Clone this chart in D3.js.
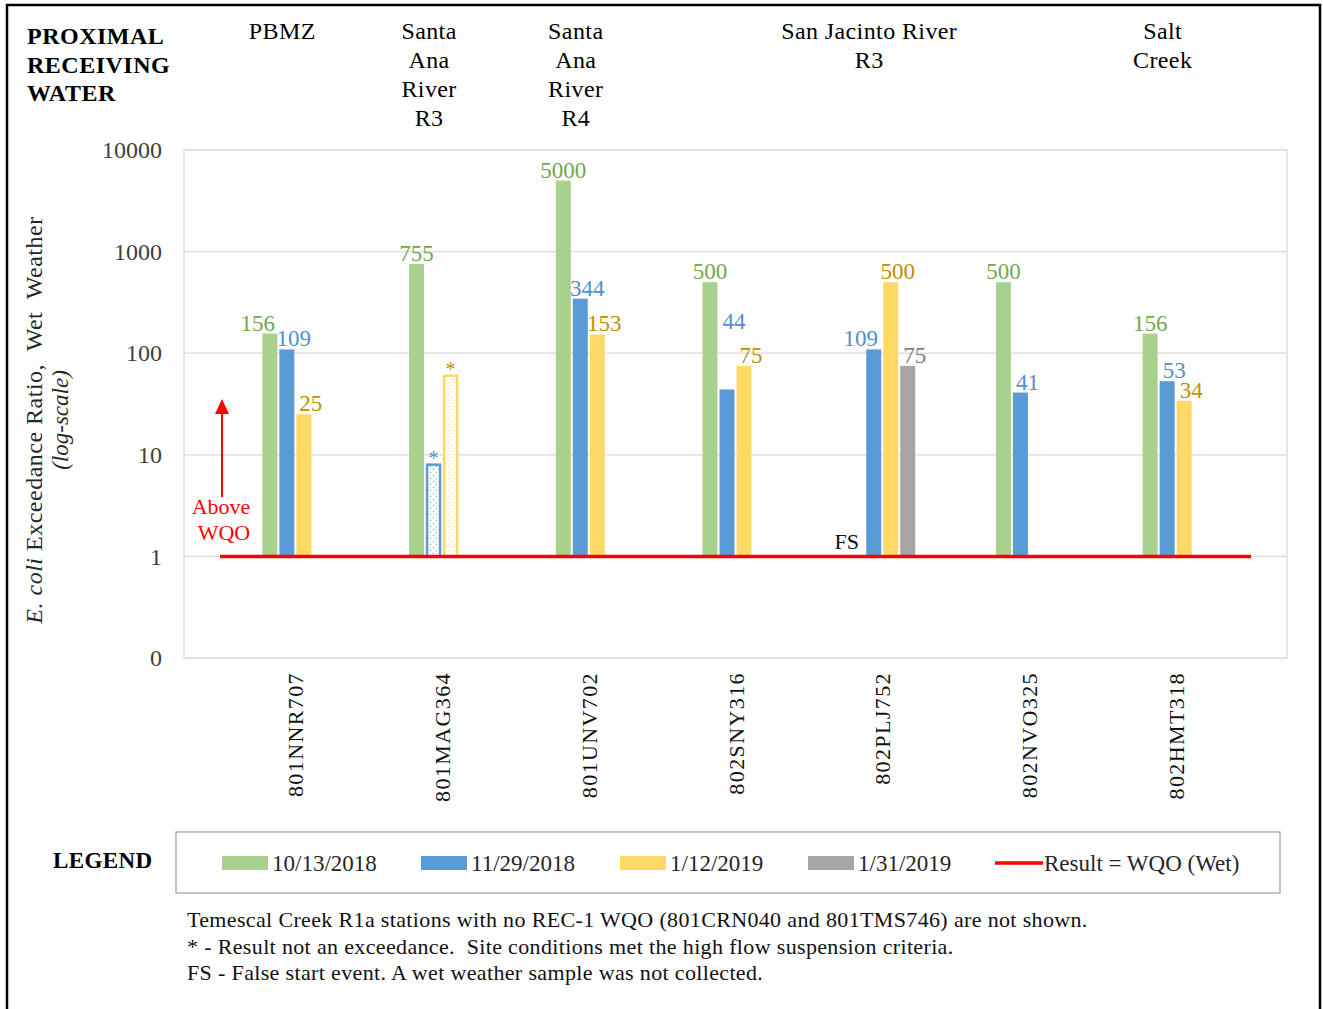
<!DOCTYPE html>
<html>
<head>
<meta charset="utf-8">
<script src="https://cdn.jsdelivr.net/npm/d3@7"></script>
<style>
  body { margin: 0; background: #fff; }
  text { font-family: 'Liberation Serif', 'Times New Roman', serif; white-space: pre; }
</style>
</head>
<body>
<div id="chart"></div>
<script>
// stations along the x axis
var stations = ['801NNR707', '801MAG364', '801UNV702', '802SNY316', '802PLJ752', '802NVO325', '802HMT318'];
var dates = ['10/13/2018', '11/29/2018', '1/12/2019', '1/31/2019'];

// exceedance ratios per sampling date (null = no bar)
var oct13 = [156, 755, 5000, 500, null, 500, 156];
var nov29 = [109, 8, 344, 44, 109, 41, 53];
var jan12 = [25, 60, 153, 75, 500, null, 34];
var jan31 = [null, null, null, null, 75, null, null];

// results that are not exceedances (high flow suspension) -> '*'
var starred = [['801MAG364', '11/29/2018'], ['801MAG364', '1/12/2019']];
// false start events
var falseStart = [['802PLJ752', '10/13/2018']];

var yTicks = [0.1, 1, 10, 100, 1000, 10000];

// receiving water headers: text lines + station span
var waterNames = [['PBMZ'], ['Santa', 'Ana', 'River', 'R3'], ['Santa', 'Ana', 'River', 'R4'], ['San Jacinto River', 'R3'], ['Salt', 'Creek']];
var waterSpan = [[0, 0], [1, 1], [2, 2], [3, 5], [6, 6]];

var footnotes = [
  'Temescal Creek R1a stations with no REC-1 WQO (801CRN040 and 801TMS746) are not shown.',
  '* - Result not an exceedance.  Site conditions met the high flow suspension criteria.',
  'FS - False start event. A wet weather sample was not collected.'
];

var fills = ['#a9d18e', '#5b9bd5', '#ffd966', '#a5a5a5'];
var labelColors = ['#70a84c', '#4f8fcf', '#bf9000', '#7f7f7f'];

var series = [oct13, nov29, jan12, jan31];

var svg = d3.select('#chart')
    .append('svg')
    .attr('width', 1323)
    .attr('height', 1009);

var defs = svg.append('defs');
fills.forEach(function(c, i) {
    var p = defs.append('pattern')
        .attr('id', 'dots' + i)
        .attr('width', 6)
        .attr('height', 6)
        .attr('patternUnits', 'userSpaceOnUse');
    p.append('rect').attr('width', 6).attr('height', 6).attr('fill', '#fff');
    p.append('circle').attr('cx', 1.5).attr('cy', 1.5).attr('r', 0.8).attr('fill', c).attr('opacity', 0.7);
    p.append('circle').attr('cx', 4.5).attr('cy', 4.5).attr('r', 0.8).attr('fill', c).attr('opacity', 0.7);
});

// outer frame
svg.append('rect')
    .attr('x', 7)
    .attr('y', 5)
    .attr('width', 1313)
    .attr('height', 1020)
    .style('fill', 'none')
    .style('stroke', '#000')
    .style('stroke-width', 2.5);

var plotL = 184, plotR = 1287, plotT = 150, plotB = 658;

var y = d3.scaleLog()
    .domain([0.1, 10000])
    .range([plotB, plotT]);

var x = d3.scaleBand()
    .domain(stations)
    .range([222, 1249]);

var xs = d3.scaleBand()
    .domain(dates)
    .range([-33, 33])
    .paddingInner(0.12);

// plot area + gridlines
svg.append('rect')
    .attr('x', plotL)
    .attr('y', plotT)
    .attr('width', plotR - plotL)
    .attr('height', plotB - plotT)
    .style('fill', 'none')
    .style('stroke', '#d9d9d9')
    .style('stroke-width', 1.2);

svg.append('g')
    .selectAll('line')
    .data(yTicks)
    .enter()
    .append('line')
    .attr('x1', plotL)
    .attr('x2', plotR)
    .attr('y1', function(d) { return y(d); })
    .attr('y2', function(d) { return y(d); })
    .style('stroke', '#d9d9d9')
    .style('stroke-width', 1.2);

var yAxis = d3.axisLeft(y)
    .tickValues(yTicks)
    .tickSize(0)
    .tickPadding(0)
    .tickFormat(function(d) { return d < 1 ? '0' : String(d); });

var ya = svg.append('g')
    .attr('transform', 'translate(162,0)')
    .call(yAxis);
ya.select('.domain').remove();
ya.selectAll('text')
    .style('font-size', '24px')
    .style('font-family', "'Liberation Serif', serif")
    .attr('dy', '0.32em')
    .style('fill', '#404040');

// x labels
svg.append('g')
    .selectAll('text')
    .data(stations)
    .enter()
    .append('text')
    .attr('transform', function(d) {
        return 'translate(' + (x(d) + x.bandwidth() / 2 + 8) + ',672) rotate(-90)';
    })
    .attr('text-anchor', 'end')
    .style('font-size', '22px')
    .style('letter-spacing', '1.4px')
    .style('fill', '#111')
    .text(function(d) { return d; });

function isIn(list, s, d) {
    return list.some(function(p) { return p[0] === s && p[1] === d; });
}

// bars
var barData = [];
series.forEach(function(vals, si) {
    vals.forEach(function(v, ci) {
        if (v == null) return;
        barData.push({ s: ci, k: si, v: v, star: isIn(starred, stations[ci], dates[si]) });
    });
});

function bx(d) {
    return x(stations[d.s]) + x.bandwidth() / 2 + xs(dates[d.k]);
}

svg.append('g')
    .selectAll('rect')
    .data(barData)
    .enter()
    .append('rect')
    .attr('x', function(d) { return bx(d) + (d.star ? 1 : 0); })
    .attr('y', function(d) { return y(d.v); })
    .attr('width', function(d) { return xs.bandwidth() - (d.star ? 2 : 0); })
    .attr('height', function(d) { return y(1) - y(d.v); })
    .style('fill', function(d) { return d.star ? 'url(#dots' + d.k + ')' : fills[d.k]; })
    .style('stroke', function(d) { return d.star ? fills[d.k] : 'none'; })
    .style('stroke-width', function(d) { return d.star ? 2.5 : 0; });

// value labels (a few nudged by hand, like the original)
svg.append('g')
    .selectAll('text')
    .data(barData)
    .enter()
    .append('text')
    .attr('x', function(d) {
        var shift = (d.k === 0 || d.star) ? 0 : 7;
        if (d.s === 0 && d.k === 0) shift = -12;
        if (d.s === 4 && d.k === 1) shift = -13;
        return bx(d) + xs.bandwidth() / 2 + shift;
    })
    .attr('y', function(d) {
        var lift = d.star ? 0 : 3;
        if (d.s === 3 && d.k === 1) lift = 60;
        return y(d.v) - lift;
    })
    .attr('text-anchor', 'middle')
    .style('font-size', function(d) { return d.star ? '20px' : '23px'; })
    .style('fill', function(d) { return labelColors[d.k]; })
    .text(function(d) { return d.star ? '*' : d.v; });

// FS labels
falseStart.forEach(function(p) {
    svg.append('text')
        .attr('x', x(p[0]) + x.bandwidth() / 2 + xs(p[1]) + xs.bandwidth() / 2 - 10)
        .attr('y', y(1) - 7)
        .attr('text-anchor', 'middle')
        .style('font-size', '22px')
        .style('fill', '#111')
        .text('FS');
});

// WQO line
svg.append('line')
    .attr('x1', 220)
    .attr('x2', 1251)
    .attr('y1', y(1))
    .attr('y2', y(1))
    .style('stroke', '#ff0000')
    .style('stroke-width', 3.5);

// above WQO arrow
svg.append('line')
    .attr('x1', 222)
    .attr('x2', 222)
    .attr('y1', 497)
    .attr('y2', 410)
    .style('stroke', '#ff0000')
    .style('stroke-width', 2);
svg.append('path')
    .attr('d', 'M215,414 L222,399 L229,414 Z')
    .style('fill', '#ff0000');
svg.append('text')
    .attr('x', 221)
    .attr('y', 514)
    .attr('text-anchor', 'middle')
    .style('font-size', '22px')
    .style('fill', '#ff0000')
    .text('Above');
svg.append('text')
    .attr('x', 224)
    .attr('y', 540)
    .attr('text-anchor', 'middle')
    .style('font-size', '22px')
    .style('fill', '#ff0000')
    .text('WQO');

// y title
var yt = svg.append('text')
    .attr('transform', 'translate(42,420) rotate(-90)')
    .attr('text-anchor', 'middle')
    .style('font-size', '24px')
    .style('letter-spacing', '0.5px')
    .style('fill', '#262626');
yt.append('tspan').style('font-style', 'italic').text('E. coli');
yt.append('tspan').text(' Exceedance Ratio,  Wet  Weather');

svg.append('text')
    .attr('transform', 'translate(68,420) rotate(-90)')
    .attr('text-anchor', 'middle')
    .style('font-size', '23px')
    .style('font-style', 'italic')
    .style('fill', '#262626')
    .text('(log-scale)');

// header
svg.append('text')
    .attr('x', 27)
    .attr('y', 44)
    .style('font-size', '24px')
    .style('font-weight', 'bold')
    .style('letter-spacing', '0.5px')
    .selectAll('tspan')
    .data(['PROXIMAL', 'RECEIVING', 'WATER'])
    .enter()
    .append('tspan')
    .attr('x', 27)
    .attr('dy', function(d, i) { return i ? 28.5 : 0; })
    .text(function(d) { return d; });

waterNames.forEach(function(lines, i) {
    var a = x(stations[waterSpan[i][0]]);
    var b = x(stations[waterSpan[i][1]]) + x.bandwidth();
    var cx = (a + b) / 2 - 13;
    svg.append('text')
        .attr('x', cx)
        .attr('y', 39)
        .attr('text-anchor', 'middle')
        .style('font-size', '24px')
        .style('letter-spacing', '0.4px')
        .selectAll('tspan')
        .data(lines)
        .enter()
        .append('tspan')
        .attr('x', cx)
        .attr('dy', function(d, j) { return j ? 29 : 0; })
        .text(function(d) { return d; });
});

// legend
svg.append('text')
    .attr('x', 53)
    .attr('y', 868)
    .style('font-size', '23px')
    .style('font-weight', 'bold')
    .style('letter-spacing', '0.4px')
    .text('LEGEND');

svg.append('rect')
    .attr('x', 176)
    .attr('y', 832)
    .attr('width', 1104)
    .attr('height', 61)
    .style('fill', 'none')
    .style('stroke', '#a6a6a6')
    .style('stroke-width', 1.3);

var legX = [222, 421, 620, 808];
var lg = svg.append('g')
    .selectAll('g')
    .data(dates)
    .enter()
    .append('g')
    .attr('transform', function(d, i) { return 'translate(' + legX[i] + ',0)'; });
lg.append('rect')
    .attr('x', 0)
    .attr('y', 856)
    .attr('width', 46)
    .attr('height', 14)
    .style('fill', function(d, i) { return fills[i]; });
lg.append('text')
    .attr('x', 50)
    .attr('y', 871)
    .style('font-size', '23px')
    .style('fill', '#262626')
    .text(function(d) { return d; });

svg.append('line')
    .attr('x1', 995)
    .attr('x2', 1043)
    .attr('y1', 863)
    .attr('y2', 863)
    .style('stroke', '#ff0000')
    .style('stroke-width', 3.5);
svg.append('text')
    .attr('x', 1044)
    .attr('y', 871)
    .style('font-size', '23px')
    .style('fill', '#262626')
    .text('Result = WQO (Wet)');

// footnotes
svg.append('g')
    .selectAll('text')
    .data(footnotes)
    .enter()
    .append('text')
    .attr('x', 187)
    .attr('y', function(d, i) { return 927 + i * 26.5; })
    .style('font-size', '22px')
    .style('letter-spacing', '0.35px')
    .style('fill', '#111')
    .text(function(d) { return d; });
</script>
</body>
</html>
